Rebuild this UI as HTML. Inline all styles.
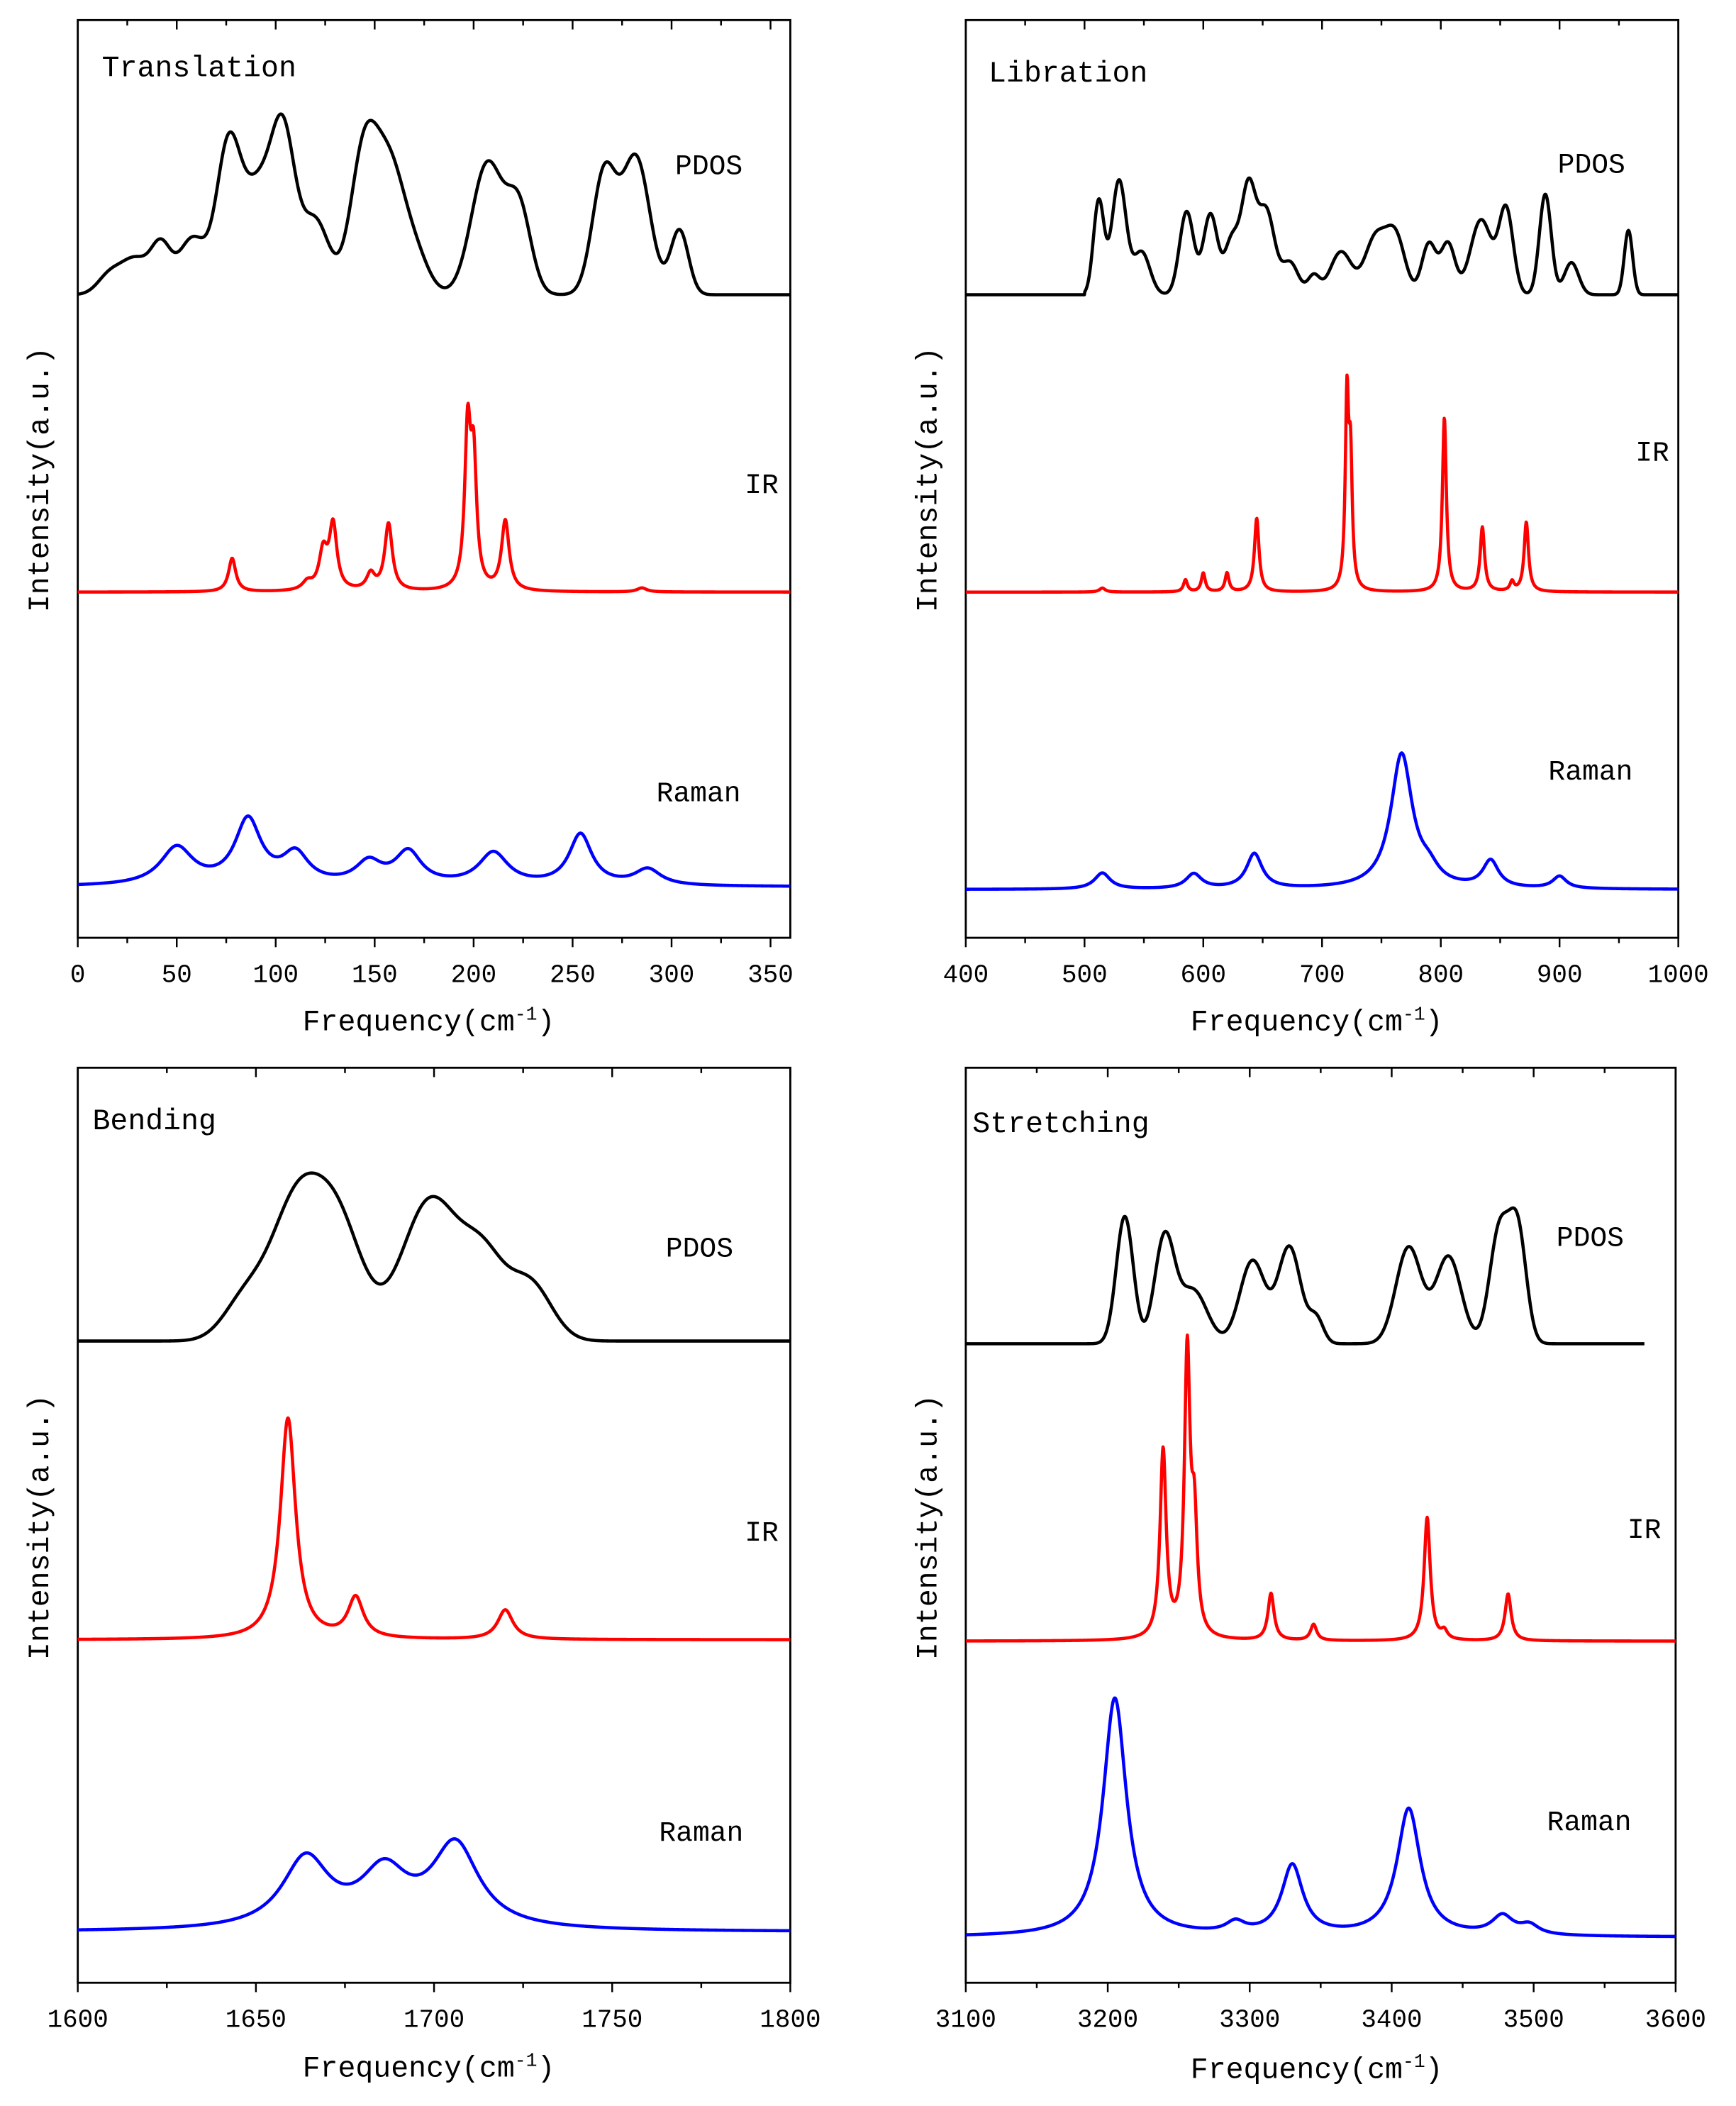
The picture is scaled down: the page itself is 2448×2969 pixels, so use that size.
<!DOCTYPE html>
<html><head><meta charset="utf-8">
<style>html,body{margin:0;padding:0;background:#fff}svg{display:block}</style></head>
<body>
<svg id="s" width="2448" height="2969" viewBox="0 0 1296 1572" xmlns="http://www.w3.org/2000/svg" font-family="'Liberation Mono', monospace">
<rect width="1296" height="1572" fill="#fff"/>
<g id="g"></g>
<text x="76" y="57" font-size="22">Translation</text>
<text x="504" y="130" font-size="21">PDOS</text>
<text x="556" y="368" font-size="21">IR</text>
<text x="490" y="598" font-size="21">Raman</text>
<text x="738" y="61" font-size="22">Libration</text>
<text x="1163" y="129" font-size="21">PDOS</text>
<text x="1221" y="344" font-size="21">IR</text>
<text x="1156" y="582" font-size="21">Raman</text>
<text x="69" y="843" font-size="22">Bending</text>
<text x="497" y="938" font-size="21">PDOS</text>
<text x="556" y="1150" font-size="21">IR</text>
<text x="492" y="1374" font-size="21">Raman</text>
<text x="726" y="845" font-size="22">Stretching</text>
<text x="1162" y="930" font-size="21">PDOS</text>
<text x="1215" y="1148" font-size="21">IR</text>
<text x="1155" y="1366" font-size="21">Raman</text>
<text transform="translate(36,358) rotate(-90)" text-anchor="middle" font-size="22">Intensity(a.u.)</text>
<text transform="translate(699,358) rotate(-90)" text-anchor="middle" font-size="22">Intensity(a.u.)</text>
<text transform="translate(36,1140) rotate(-90)" text-anchor="middle" font-size="22">Intensity(a.u.)</text>
<text transform="translate(699,1140) rotate(-90)" text-anchor="middle" font-size="22">Intensity(a.u.)</text>
<text x="320" y="769" text-anchor="middle" font-size="22">Frequency(cm<tspan dy="-8" font-size="14">-1</tspan><tspan dy="8">)</tspan></text>
<text x="983" y="769" text-anchor="middle" font-size="22">Frequency(cm<tspan dy="-8" font-size="14">-1</tspan><tspan dy="8">)</tspan></text>
<text x="320" y="1550" text-anchor="middle" font-size="22">Frequency(cm<tspan dy="-8" font-size="14">-1</tspan><tspan dy="8">)</tspan></text>
<text x="983" y="1551" text-anchor="middle" font-size="22">Frequency(cm<tspan dy="-8" font-size="14">-1</tspan><tspan dy="8">)</tspan></text>
</svg>
<script>
var NS="http://www.w3.org/2000/svg",G=document.getElementById("g");
function el(t,a,txt){var e=document.createElementNS(NS,t);for(var k in a)e.setAttribute(k,a[k]);if(txt!=null)e.textContent=txt;G.appendChild(e);return e;}
function panel(P){
 var X=function(v){return P.x0+(v-P.v0)/(P.v1-P.v0)*(P.x1-P.x0);};
 el("rect",{x:P.x0,y:P.y0,width:P.x1-P.x0,height:P.y1-P.y0,fill:"none",stroke:"#000","stroke-width":1.5});
 for(var v=P.v0;v<=P.v1+1e-6;v+=P.minor){var x=X(v);var maj=Math.abs(Math.round((v-P.v0)/P.major)*P.major-(v-P.v0))<1e-6;
  el("line",{x1:x,y1:P.y1,x2:x,y2:P.y1+(maj?7:4),stroke:"#000","stroke-width":1.3});
  el("line",{x1:x,y1:P.y0,x2:x,y2:P.y0+(maj?7:4),stroke:"#000","stroke-width":1.3});
  if(maj)el("text",{x:x,y:P.y1+33,"text-anchor":"middle","font-size":19},String(Math.round(v)));}
 P.series.forEach(function(S){
  var d="",end=S.end||P.v1;
  for(var i=0;i<=1400;i++){var v=P.v0+(end-P.v0)*i/1400;var y=0;
   S.pk.forEach(function(p){var dx=v-p[0];if(S.g)y+=p[1]*Math.exp(-dx*dx/(2*p[2]*p[2]));else y+=p[1]*p[2]*p[2]/(dx*dx+p[2]*p[2]);});
   if(S.start&&v<S.start)y=0;
   d+=(i?"L":"M")+X(v).toFixed(2)+" "+(S.b-y).toFixed(2);}
  el("path",{d:d,fill:"none",stroke:S.c,"stroke-width":2.4,"stroke-linejoin":"round"});});
}
var K="#000",R="#f00",B="#00f";
panel({x0:58,x1:590,y0:15,y1:700,v0:0,v1:360,major:50,minor:25,series:[
 {c:K,g:1,b:220,pk:[[16,14,6],[29,26,7],[42,34,5],[58,42,7],[76,105,6],[91,78,8],[104,108,6],[120,55,7],[145,110,7],[158,82,7],[170,30,7],[207,98,8],[223,62,6],[266,90,6],[282,102,7],[304,48,4.5]]},
 {c:R,b:442,pk:[[78,25,2.2],[116,6,3],[124,28,2.5],[129,48,2.3],[148,12,2.5],[157,50,2.3],[197,115,1.8],[200,90,1.8],[216,52,2.3],[285,3,3]]},
 {c:B,g:0,b:662,pk:[[50,28,10],[86,48,8],[110,22,8],[147,16,8],[167,24,8],[210,24,9],[254,38,7],[288,12,8]]}]});
panel({x0:721,x1:1253,y0:15,y1:700,v0:400,v1:1000,major:100,minor:50,series:[
 {c:K,g:1,b:220,start:500,pk:[[512,70,4.5],[529,85,6],[548,32,7],[586,62,6],[606,60,6],[624,40,6],[638,78,6],[653,62,7],[673,24,7],[693,14,5],[716,32,9],[745,42,9],[762,42,8],[790,38,6],[806,38,6],[834,56,9],[855,63,6],[888,75,5],[910,24,6],[958,48,3.5]]},
 {c:R,b:442,pk:[[515,3,3],[585,9,2],[600,14,2],[620,14,2],[645,55,2.3],[721,140,1.7],[724,90,1.7],[803,130,2],[835,48,2.2],[860,7,2],[872,52,2.2]]},
 {c:B,b:664,pk:[[515,12,8],[592,11,8],[643,26,8],[767,100,11],[790,10,10],[842,20,8],[900,9,7]]}]});
panel({x0:58,x1:590,y0:797,y1:1480,v0:1600,v1:1800,major:50,minor:25,series:[
 {c:K,g:1,b:1001,pk:[[1647,30,6],[1661,95,7],[1673,85,7],[1699,105,8],[1714,55,6],[1727,42,6]]},
 {c:R,b:1224,pk:[[1659,165,2.6],[1678,30,2.6],[1720,22,2.6]]},
 {c:B,b:1442,pk:[[1664,52,8],[1686,40,8],[1706,62,8]]}]});
panel({x0:721,x1:1251,y0:797,y1:1480,v0:3100,v1:3600,major:100,minor:50,series:[
 {c:K,g:1,b:1003,end:3578,pk:[[3212,95,6],[3240,78,7],[3260,40,10],[3302,62,9],[3328,72,8],[3347,18,5],[3412,72,9],[3440,65,9],[3476,85,7],[3489,80,6]]},
 {c:R,b:1225,pk:[[3239,140,2.6],[3256,210,2.4],[3261,80,2.4],[3315,35,2.6],[3345,12,2.6],[3425,92,2.6],[3437,6,2.6],[3482,35,2.6]]},
 {c:B,b:1446,pk:[[3205,178,10],[3290,8,8],[3330,52,9],[3412,95,10],[3478,14,9],[3497,7,8]]}]});
</script>
</body></html>
